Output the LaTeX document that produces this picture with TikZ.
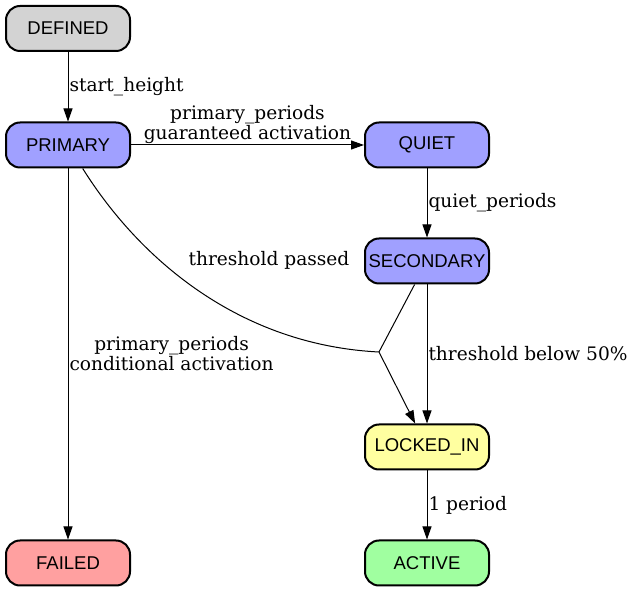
\documentclass[tikz,border=0pt]{standalone}
\usepackage{fontspec}
\setmainfont{DejaVu Serif}
\newfontfamily\statefont{Liberation Sans}
\usetikzlibrary{positioning,arrows.meta}
\usetikzlibrary{shapes}

\begin{document}
\begin{tikzpicture}[x=1pt,y=-1pt,
                every node/.style={inner sep=1pt},
                state/.style={draw, line width=2pt, rounded corners=14pt, minimum width=124pt, minimum height=45pt,
                        font=\statefont\fontsize{18.5}{20}\selectfont},
                edge/.style={-{Triangle[length=13pt,width=9pt]}, line width=1pt},
                lbl/.style={font=\fontsize{18.6}{20}\selectfont, align=center},]
            \useasboundingbox (0,0) rectangle (633,593);
            % states
            \node[state, fill={rgb,255:red,211;green,211;blue,211}] (defined) at (68,28.5) {DEFINED};
            \node[state, fill={rgb,255:red,160;green,160;blue,255}] (primary) at (68,145) {PRIMARY};
            \node[state, fill={rgb,255:red,160;green,160;blue,255}] (quiet) at (427,145) {QUIET};
            \node[state, fill={rgb,255:red,160;green,160;blue,255}] (secondary) at (427,261) {SECONDARY};
            \node[state, fill={rgb,255:red,255;green,255;blue,160}] (locked) at (427,447) {LOCKED\_IN};
            \node[state, fill={rgb,255:red,160;green,255;blue,160}] (active) at (427,563) {ACTIVE};
            \node[state, fill={rgb,255:red,255;green,160;blue,160}] (failed) at (68,563) {FAILED};
            % transitions
            \draw[edge] (defined) -- node[lbl, right] {start\_height} (primary);
            \draw[edge] (primary) -- node[lbl, above] {primary\_periods\\guaranteed activation} (quiet);
            \draw[edge] (quiet) -- node[lbl, right] {quiet\_periods} (secondary);
            \draw[edge] (secondary) -- node[lbl, right] {threshold below 50\%} (locked);
            \draw[edge] (locked) -- node[lbl, right] {1 period} (active);
            \draw[edge] (primary) -- node[lbl, right] {primary\_periods\\conditional activation} (failed);
            % merged edge into locked in
            \coordinate (merge) at (379,352);
            \draw[line width=1pt] (primary) .. controls (140,260) and (240,345) .. (merge);
            \draw[line width=1pt] (secondary) -- (merge);
            \draw[edge] (merge) -- (locked);
            \node[lbl] (passed) at (269,260) {threshold passed};
        \end{tikzpicture}
\end{document}
